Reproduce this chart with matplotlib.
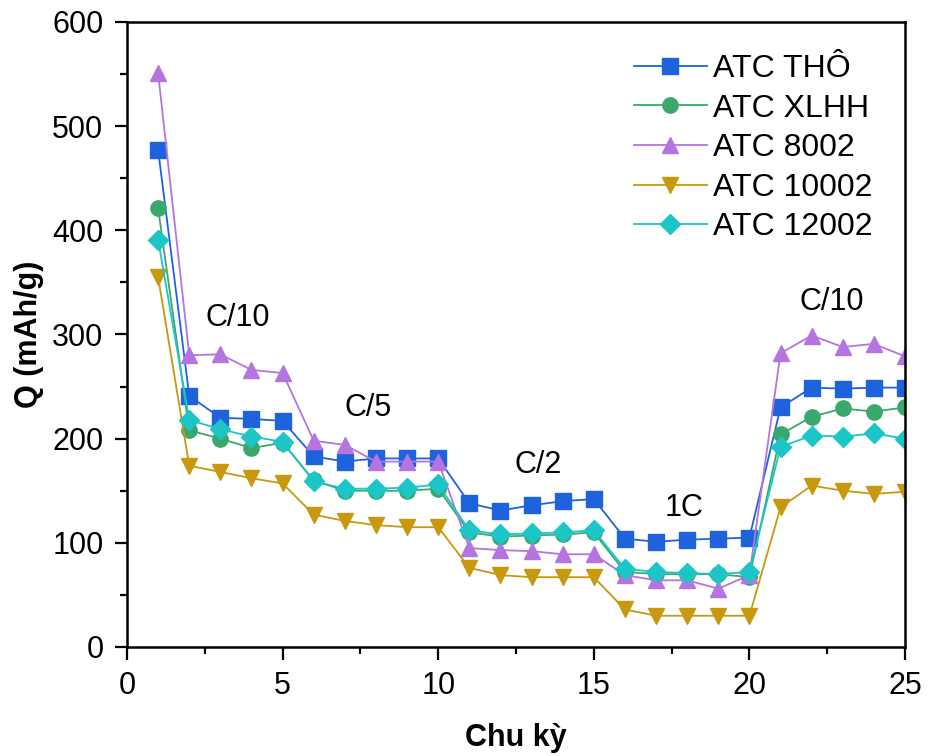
import matplotlib
matplotlib.use('Agg')
import matplotlib.pyplot as plt
from matplotlib.ticker import MultipleLocator

plt.rcParams['font.family'] = ['Liberation Sans', 'DejaVu Sans']

cycles = list(range(1, 26))

# capacity values (mAh/g)
atcTho = [477, 241, 220, 219, 217, 183, 178, 181, 181, 181,
          138, 131, 136, 140, 142, 104, 101, 103, 104, 105,
          230, 249, 248, 249, 249]
atcXlhh = [421, 208, 200, 191, 196, 160, 150, 150, 150, 152,
           110, 106, 107, 108, 110, 72, 70, 70, 70, 67,
           204, 221, 229, 226, 230]
atc8002 = [551, 280, 281, 266, 263, 198, 194, 178, 178, 178,
           95, 93, 92, 89, 89, 69, 64, 64, 56, 69,
           282, 299, 288, 291, 279]
atc10002 = [355, 174, 168, 162, 157, 127, 121, 117, 115, 115,
            76, 69, 67, 67, 67, 36, 30, 30, 30, 30,
            134, 155, 150, 147, 149]
atc12002 = [391, 218, 209, 202, 197, 159, 152, 152, 153, 156,
            112, 108, 109, 110, 112, 75, 72, 71, 70, 72,
            192, 203, 202, 205, 200]

labels = ['ATC THÔ', 'ATC XLHH', 'ATC 8002', 'ATC 10002', 'ATC 12002']
series = [atcTho, atcXlhh, atc8002, atc10002, atc12002]
colors = ['#1f63dc', '#3aa86c', '#b574e0', '#c8980f', '#1cc6c6']
markers = ['s', 'o', '^', 'v', 'D']
sizes = [11, 11, 12, 12, 10]

# C-rate annotations
rateText = ['C/10', 'C/5', 'C/2', '1C', 'C/10']
rateX = [3.55, 7.75, 13.2, 17.9, 22.65]
rateY = [316, 229, 175, 133, 331]

fig = plt.figure(figsize=(9.36, 7.56), dpi=100)
ax = fig.add_axes([0.1357, 0.1442, 0.8312, 0.8267])

for vals, lab, col, mk, ms in zip(series, labels, colors, markers, sizes):
    ax.plot(cycles, vals, color=col, marker=mk, markersize=ms, linewidth=1.3,
            markeredgecolor=col, label=lab)

for t, x, y in zip(rateText, rateX, rateY):
    ax.text(x, y, t, fontsize=22, ha='center', va='center')

ax.set_xlim(0, 25)
ax.set_ylim(0, 600)
ax.xaxis.set_major_locator(MultipleLocator(5))
ax.xaxis.set_minor_locator(MultipleLocator(2.5))
ax.yaxis.set_major_locator(MultipleLocator(100))
ax.yaxis.set_minor_locator(MultipleLocator(50))
ax.tick_params(which='major', direction='out', length=9, width=1.6,
               labelsize=22, pad=8)
ax.tick_params(which='minor', direction='out', length=5, width=1.6)
for s in ax.spines.values():
    s.set_linewidth(1.8)

ax.set_xlabel('Chu kỳ', fontsize=22, fontweight='bold', labelpad=16)
ax.set_ylabel('Q (mAh/g)', fontsize=22, fontweight='bold', labelpad=6)

ax.legend(loc='upper right', frameon=False, fontsize=23, handlelength=2.3,
          labelspacing=0.3, handletextpad=0.2, borderaxespad=0.6)

fig.savefig('out.png', dpi=100)
